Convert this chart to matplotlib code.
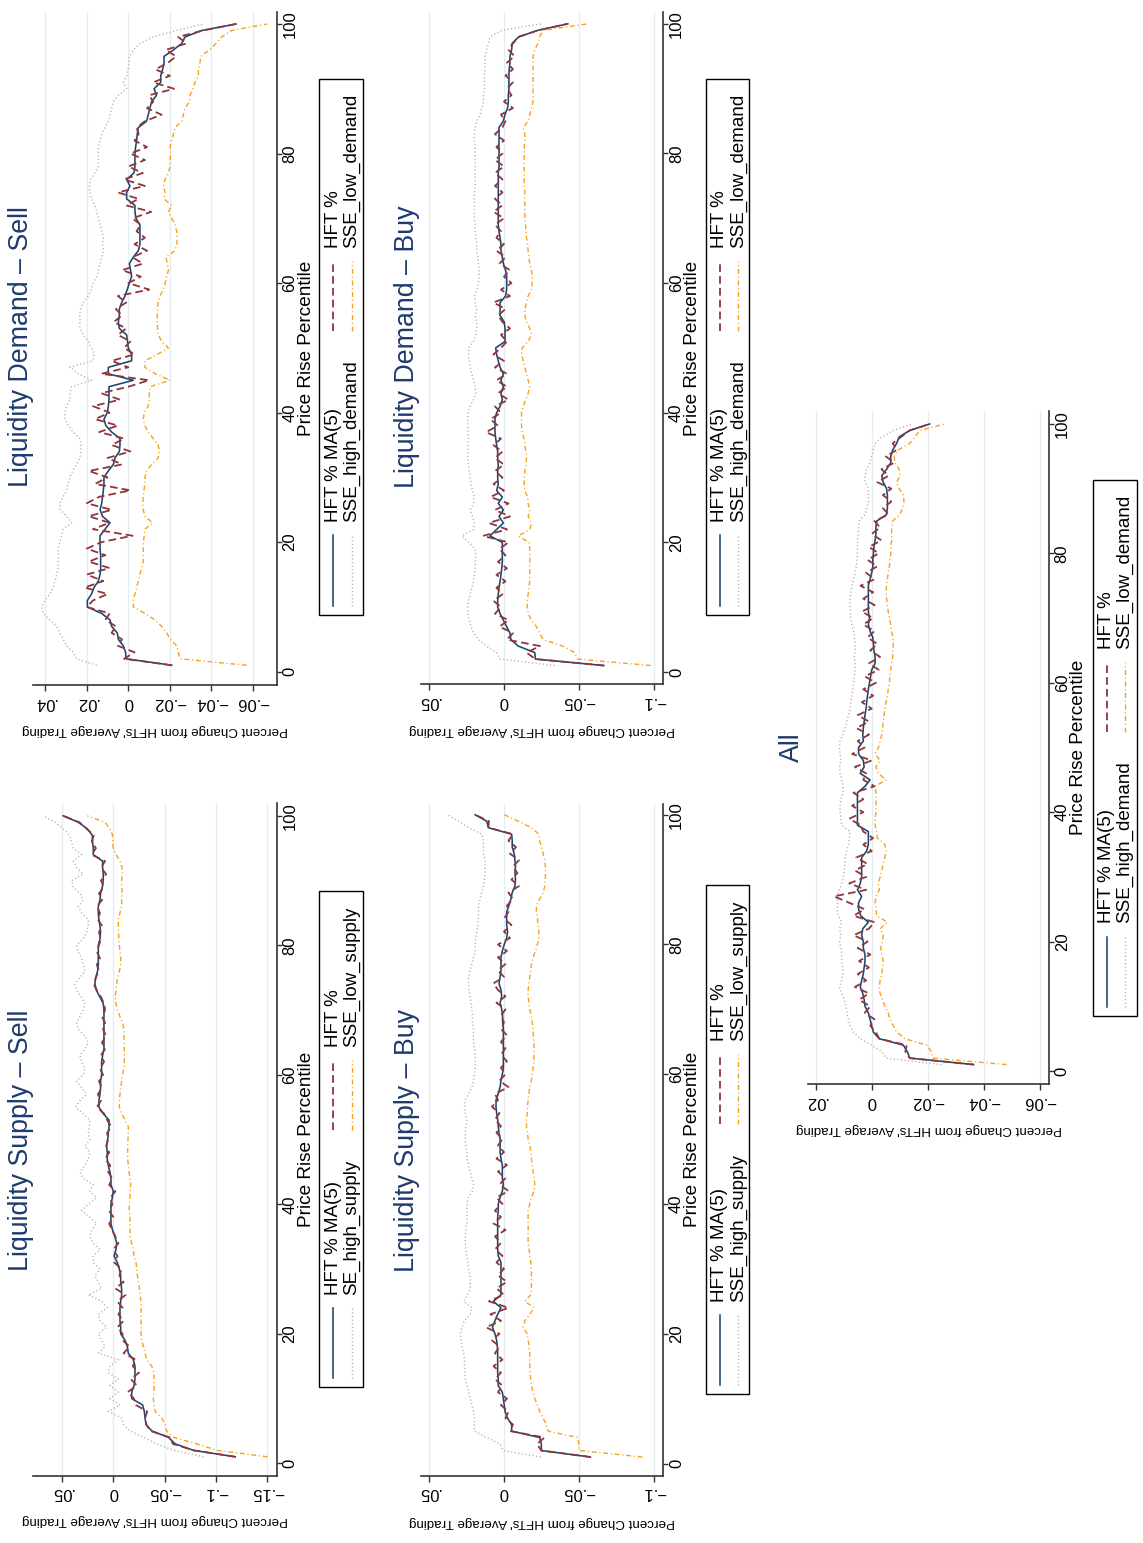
import numpy as np
import matplotlib
matplotlib.use("Agg")
import matplotlib.pyplot as plt
from matplotlib.lines import Line2D
from matplotlib.patches import Rectangle

plt.rcParams['font.family'] = ['Liberation Sans', 'DejaVu Sans']
plt.rcParams['lines.scale_dashes'] = False

W, H = 1143, 1543

# price rise percentile 1..100
pct = np.arange(1, 101)
pct_ticks = [0, 20, 40, 60, 80, 100]

# ---------------- Liquidity Supply - Sell ----------------
A_ma = [-.1187,-.0780,-.0602,-.0537,-.0374,-.0319,-.0309,-.0302,-.0286,-.0179,
        -.0179,-.0202,-.0211,-.0211,-.0211,-.0195,-.0146,-.0137,-.0114,-.0072,
        -.0072,-.0065,-.0065,-.0065,-.0072,-.0081,-.0081,-.0072,-.0072,-.0059,
        -.0039,-.0007,-.0026,-.0033,-.0016,.0007,.0023,.0023,.0023,.0023,
        .0010,.0000,.0023,.0023,.0033,.0049,.0059,.0059,.0065,.0055,
        .0049,.0042,.0042,.0098,.0140,.0140,.0130,.0124,.0124,.0114,
        .0114,.0114,.0104,.0091,.0091,.0091,.0091,.0091,.0091,.0091,
        .0098,.0130,.0163,.0179,.0172,.0153,.0146,.0146,.0146,.0146,
        .0130,.0124,.0130,.0140,.0146,.0146,.0130,.0124,.0107,.0098,
        .0098,.0104,.0104,.0195,.0195,.0202,.0205,.0254,.0341,.0488]
A_hft = [-.1187,-.0780,-.0580,-.0550,-.0360,-.0320,-.0310,-.0330,-.0220,-.0200,
         -.0140,-.0230,-.0170,-.0250,-.0190,-.0220,-.0100,-.0160,-.0090,-.0090,
         -.0040,-.0100,-.0050,-.0090,-.0040,-.0120,-.0020,-.0100,-.0060,-.0080,
         -.0010,-.0040,.0000,-.0050,-.0020,.0010,.0040,.0000,.0040,.0010,
         .0030,-.0020,.0040,.0010,.0050,.0030,.0080,.0040,.0070,.0050,
         .0060,.0020,.0060,.0090,.0160,.0120,.0150,.0110,.0140,.0100,
         .0130,.0090,.0120,.0080,.0110,.0070,.0100,.0080,.0110,.0080,
         .0090,.0120,.0160,.0190,.0170,.0140,.0160,.0130,.0160,.0140,
         .0120,.0140,.0110,.0150,.0130,.0160,.0110,.0140,.0090,.0120,
         .0070,.0120,.0080,.0210,.0170,.0210,.0190,.0260,.0330,.0488]
A_high = [-.0878,-.0585,-.0423,-.0293,-.0163,-.0098,-.0081,.0049,-.0065,.0033,
          -.0049,.0033,-.0049,.0049,.0033,-.0049,.0146,.0081,.0114,.0146,
          .0065,.0130,.0146,.0059,.0114,.0244,.0114,.0146,.0179,.0130,
          .0195,.0195,.0130,.0195,.0228,.0211,.0163,.0228,.0309,.0244,
          .0163,.0228,.0195,.0293,.0325,.0276,.0244,.0228,.0276,.0228,
          .0244,.0234,.0228,.0293,.0367,.0325,.0260,.0309,.0358,.0293,
          .0276,.0309,.0325,.0276,.0244,.0276,.0341,.0358,.0325,.0293,
          .0276,.0309,.0358,.0374,.0325,.0276,.0293,.0309,.0341,.0358,
          .0293,.0260,.0244,.0244,.0309,.0341,.0293,.0325,.0390,.0407,
          .0293,.0358,.0390,.0309,.0390,.0407,.0423,.0488,.0569,.0683]
A_low = [-.1502,-.1008,-.0813,-.0585,-.0520,-.0504,-.0472,-.0407,-.0397,-.0390,
         -.0397,-.0397,-.0397,-.0397,-.0374,-.0325,-.0309,-.0293,-.0276,-.0270,
         -.0270,-.0270,-.0270,-.0270,-.0270,-.0260,-.0254,-.0244,-.0234,-.0228,
         -.0221,-.0202,-.0195,-.0179,-.0163,-.0163,-.0163,-.0163,-.0156,-.0156,
         -.0163,-.0163,-.0169,-.0163,-.0153,-.0146,-.0140,-.0140,-.0140,-.0143,
         -.0146,-.0146,-.0114,-.0081,-.0059,-.0059,-.0065,-.0072,-.0081,-.0091,
         -.0104,-.0107,-.0107,-.0107,-.0107,-.0104,-.0104,-.0091,-.0065,-.0039,
         -.0026,-.0016,-.0026,-.0033,-.0039,-.0059,-.0072,-.0072,-.0065,-.0059,
         -.0052,-.0052,-.0049,-.0049,-.0065,-.0081,-.0081,-.0088,-.0081,-.0081,
         -.0085,-.0085,-.0065,-.0026,.0000,.0007,.0007,.0033,.0081,.0254]

# ---------------- Liquidity Demand - Sell ----------------
B_ma = [-.0209,.0011,.0013,.0024,.0048,.0053,.0080,.0088,.0128,.0197,
        .0197,.0177,.0165,.0144,.0136,.0133,.0133,.0133,.0136,.0136,
        .0136,.0112,.0088,.0124,.0136,.0128,.0124,.0120,.0117,.0117,
        .0096,.0072,.0064,.0043,.0040,.0040,.0080,.0108,.0117,.0101,
        .0096,.0093,.0093,.0093,-.0024,.0096,.0096,-.0016,-.0016,.0000,
        .0004,.0008,.0043,.0048,.0043,.0043,.0032,.0016,.0005,-.0005,
        -.0016,-.0011,-.0005,-.0024,-.0048,-.0056,-.0056,-.0056,-.0056,-.0037,
        -.0032,-.0032,.0008,.0008,-.0008,.0008,-.0027,-.0032,-.0032,-.0032,
        -.0035,-.0040,-.0043,-.0048,-.0088,-.0096,-.0104,-.0112,-.0136,-.0124,
        -.0156,-.0156,-.0165,-.0172,-.0172,-.0217,-.0257,-.0273,-.0353,-.0518]
B_hft = [-.0209,.0020,-.0030,.0050,.0030,.0080,.0060,.0110,.0090,.0200,
         .0170,.0100,.0210,.0120,.0200,.0090,.0190,.0110,.0200,.0130,
         -.0020,.0170,.0090,.0190,.0080,.0200,.0140,-.0010,.0160,.0100,
         .0190,.0030,.0100,-.0010,.0080,.0020,.0140,.0050,.0160,.0090,
         .0170,.0040,.0130,.0000,-.0100,.0130,.0000,.0080,-.0030,.0020,
         -.0010,.0050,.0010,.0070,.0030,.0060,.0010,.0050,-.0100,.0000,
         -.0060,.0030,-.0070,-.0020,-.0090,-.0030,-.0080,-.0040,-.0060,-.0020,
         -.0110,.0010,-.0050,.0050,-.0080,.0020,-.0070,.0000,-.0080,-.0010,
         -.0090,-.0030,-.0050,-.0040,-.0080,-.0160,-.0090,-.0120,-.0100,-.0220,
         -.0120,-.0200,-.0130,-.0190,-.0230,-.0180,-.0280,-.0240,-.0360,-.0518]
B_high = [.0152,.0249,.0265,.0297,.0313,.0329,.0345,.0377,.0409,.0417,
          .0401,.0377,.0361,.0353,.0345,.0337,.0337,.0337,.0337,.0329,
          .0321,.0313,.0273,.0297,.0329,.0329,.0313,.0297,.0289,.0281,
          .0268,.0249,.0233,.0228,.0228,.0233,.0265,.0289,.0305,.0305,
          .0297,.0281,.0281,.0273,.0177,.0240,.0281,.0170,.0165,.0177,
          .0193,.0217,.0233,.0233,.0233,.0230,.0217,.0193,.0177,.0169,
          .0152,.0144,.0136,.0128,.0120,.0124,.0120,.0128,.0136,.0144,
          .0152,.0161,.0177,.0185,.0188,.0181,.0161,.0144,.0144,.0144,
          .0144,.0136,.0128,.0112,.0096,.0088,.0080,.0072,.0048,.0008,
          .0024,.0008,.0000,-.0003,-.0005,-.0024,-.0056,-.0120,-.0233,-.0361]
B_low = [-.0570,-.0249,-.0241,-.0233,-.0201,-.0185,-.0161,-.0128,-.0080,-.0024,
         -.0024,-.0032,-.0040,-.0048,-.0056,-.0064,-.0072,-.0072,-.0072,-.0072,
         -.0077,-.0080,-.0117,-.0080,-.0072,-.0069,-.0072,-.0075,-.0080,-.0080,
         -.0088,-.0112,-.0144,-.0149,-.0144,-.0120,-.0096,-.0080,-.0072,-.0077,
         -.0096,-.0101,-.0101,-.0104,-.0201,-.0130,-.0080,-.0080,-.0140,-.0193,
         -.0161,-.0144,-.0141,-.0139,-.0139,-.0140,-.0144,-.0152,-.0169,-.0177,
         -.0185,-.0193,-.0188,-.0181,-.0225,-.0233,-.0236,-.0233,-.0225,-.0209,
         -.0193,-.0209,-.0172,-.0177,-.0169,-.0177,-.0193,-.0201,-.0201,-.0204,
         -.0201,-.0209,-.0217,-.0225,-.0257,-.0265,-.0273,-.0294,-.0297,-.0310,
         -.0321,-.0337,-.0337,-.0345,-.0348,-.0390,-.0422,-.0449,-.0498,-.0669]

# ---------------- Liquidity Supply - Buy ----------------
C_ma = [-.0576,-.0249,-.0249,-.0238,-.0051,-.0051,-.0024,-.0007,-.0002,.0004,
        .0011,.0038,.0038,.0042,.0042,.0042,.0042,.0044,.0049,.0060,
        .0077,.0060,.0042,.0020,.0071,.0020,.0020,.0020,.0020,.0020,
        .0020,.0038,.0042,.0042,.0042,.0042,.0042,.0042,.0038,.0038,
        .0026,.0011,.0004,.0011,.0011,.0011,.0020,.0026,.0026,.0026,
        .0033,.0038,.0042,.0049,.0053,.0053,.0038,.0026,.0020,.0011,
        .0004,.0004,.0004,.0004,.0004,.0004,.0004,.0009,.0009,.0015,
        .0026,.0015,.0020,.0033,.0026,.0020,.0020,.0020,.0011,-.0002,
        -.0018,-.0024,-.0018,-.0018,-.0018,-.0033,-.0046,-.0055,-.0073,-.0077,
        -.0073,-.0077,-.0073,-.0068,-.0055,-.0055,-.0051,.0104,.0115,.0192]
C_hft = [-.0576,-.0249,-.0220,-.0270,-.0040,-.0060,-.0010,-.0030,.0020,-.0020,
         .0040,.0010,.0060,.0020,.0070,.0010,.0060,.0030,.0080,.0030,
         .0120,.0020,.0090,-.0030,.0100,.0000,.0050,-.0020,.0040,.0000,
         .0050,.0010,.0060,.0020,.0060,-.0010,.0070,.0020,.0060,.0010,
         .0050,-.0030,.0030,-.0010,.0040,-.0020,.0050,.0000,.0040,.0010,
         .0050,.0020,.0060,.0030,.0080,.0040,.0060,-.0030,.0030,-.0010,
         .0020,-.0020,.0020,-.0010,.0020,-.0020,.0020,.0000,.0020,-.0010,
         .0050,-.0010,.0040,.0070,.0000,.0040,-.0010,.0040,-.0020,.0040,
         -.0040,.0000,-.0050,.0000,-.0030,-.0020,-.0060,-.0030,-.0100,-.0050,
         -.0090,-.0060,-.0100,-.0040,-.0080,-.0030,-.0060,.0104,.0100,.0192]
C_high = [-.0245,.0004,.0026,.0115,.0197,.0197,.0197,.0203,.0214,.0225,
          .0236,.0247,.0258,.0258,.0263,.0263,.0269,.0280,.0285,.0291,
          .0280,.0263,.0225,.0214,.0269,.0241,.0225,.0225,.0225,.0236,
          .0241,.0247,.0254,.0258,.0258,.0254,.0247,.0247,.0247,.0247,
          .0236,.0210,.0203,.0214,.0225,.0236,.0247,.0247,.0254,.0258,
          .0258,.0254,.0247,.0258,.0263,.0258,.0236,.0214,.0203,.0197,
          .0192,.0192,.0192,.0197,.0203,.0203,.0203,.0210,.0210,.0214,
          .0219,.0225,.0232,.0236,.0236,.0225,.0214,.0203,.0192,.0192,
          .0188,.0181,.0174,.0170,.0170,.0170,.0159,.0148,.0137,.0130,
          .0126,.0126,.0126,.0137,.0137,.0137,.0148,.0236,.0302,.0375]
C_low = [-.0923,-.0503,-.0499,-.0492,-.0294,-.0283,-.0261,-.0238,-.0223,-.0205,
         -.0194,-.0183,-.0179,-.0172,-.0172,-.0172,-.0172,-.0168,-.0161,-.0155,
         -.0128,-.0139,-.0172,-.0201,-.0139,-.0179,-.0183,-.0183,-.0183,-.0183,
         -.0179,-.0172,-.0168,-.0161,-.0161,-.0161,-.0161,-.0161,-.0161,-.0172,
         -.0183,-.0201,-.0205,-.0201,-.0194,-.0188,-.0183,-.0179,-.0172,-.0161,
         -.0157,-.0150,-.0150,-.0155,-.0157,-.0161,-.0166,-.0172,-.0183,-.0188,
         -.0194,-.0199,-.0201,-.0201,-.0199,-.0196,-.0194,-.0188,-.0183,-.0172,
         -.0166,-.0161,-.0161,-.0166,-.0172,-.0179,-.0183,-.0194,-.0210,-.0223,
         -.0232,-.0232,-.0227,-.0223,-.0216,-.0216,-.0238,-.0261,-.0272,-.0276,
         -.0276,-.0276,-.0272,-.0261,-.0250,-.0238,-.0232,-.0183,-.0095,-.0002]

# ---------------- Liquidity Demand - Buy ----------------
D_ma = [-.0665,-.0210,-.0205,-.0095,-.0046,-.0040,-.0018,.0004,.0026,.0042,
        .0042,.0038,.0033,.0026,.0020,.0015,.0011,.0011,.0011,.0011,
        .0093,.0049,.0004,.0033,.0004,.0038,.0011,.0049,.0038,.0042,
        .0042,.0038,.0042,.0042,.0049,.0055,.0060,.0060,.0060,.0049,
        .0026,.0011,.0020,.0004,.0020,.0004,.0026,.0038,.0049,.0055,
        -.0007,-.0007,-.0007,-.0002,.0026,.0026,.0026,-.0011,-.0018,-.0018,
        -.0018,-.0011,.0004,.0011,.0020,.0020,.0026,.0033,.0038,.0038,
        .0038,.0038,.0038,.0038,.0038,.0038,.0038,.0033,.0033,.0033,
        .0033,.0033,.0033,.0033,.0004,-.0007,-.0024,-.0029,-.0029,-.0033,
        -.0033,-.0033,-.0035,-.0040,-.0040,-.0051,-.0055,-.0099,-.0227,-.0426]
D_hft = [-.0665,-.0210,-.0150,-.0240,-.0020,-.0060,.0030,-.0030,.0060,.0020,
         .0070,.0010,.0050,-.0010,.0050,-.0020,.0040,-.0010,.0030,-.0030,
         .0140,-.0020,.0100,-.0040,.0060,-.0030,.0090,.0000,.0070,.0010,
         .0060,.0000,.0060,.0010,.0070,.0020,.0120,.0040,.0090,.0020,
         .0060,-.0030,.0040,-.0020,.0050,-.0020,.0060,.0000,.0070,.0020,
         -.0020,.0020,-.0040,.0010,.0040,-.0010,.0070,-.0040,.0020,-.0050,
         .0000,-.0040,.0030,-.0010,.0050,.0000,.0050,.0020,.0060,.0000,
         .0070,.0010,.0060,.0010,.0060,.0010,.0060,.0000,.0060,.0010,
         .0050,.0000,.0060,.0010,-.0010,.0020,-.0060,.0000,-.0050,-.0020,
         -.0060,-.0010,-.0060,-.0020,-.0070,-.0030,-.0060,-.0100,-.0227,-.0426]
D_high = [-.0338,.0026,.0049,.0115,.0170,.0203,.0219,.0232,.0241,.0241,
          .0236,.0225,.0214,.0203,.0197,.0192,.0192,.0188,.0192,.0236,
          .0280,.0203,.0197,.0210,.0225,.0203,.0197,.0210,.0219,.0225,
          .0232,.0236,.0241,.0241,.0241,.0236,.0241,.0241,.0241,.0241,
          .0225,.0203,.0188,.0192,.0203,.0214,.0225,.0232,.0236,.0236,
          .0203,.0188,.0181,.0181,.0192,.0181,.0192,.0197,.0181,.0170,
          .0166,.0166,.0170,.0174,.0181,.0181,.0188,.0192,.0192,.0197,
          .0197,.0197,.0197,.0197,.0192,.0192,.0192,.0192,.0192,.0192,
          .0192,.0197,.0197,.0192,.0181,.0159,.0148,.0137,.0137,.0130,
          .0130,.0130,.0126,.0126,.0126,.0115,.0104,.0093,.0015,-.0249]
D_low = [-.0978,-.0492,-.0470,-.0393,-.0261,-.0238,-.0216,-.0183,-.0161,-.0155,
         -.0155,-.0161,-.0166,-.0172,-.0172,-.0172,-.0172,-.0172,-.0172,-.0166,
         -.0095,-.0172,-.0183,-.0161,-.0172,-.0161,-.0157,-.0139,-.0135,-.0135,
         -.0139,-.0146,-.0150,-.0146,-.0139,-.0135,-.0121,-.0117,-.0117,-.0117,
         -.0128,-.0144,-.0161,-.0172,-.0161,-.0150,-.0139,-.0128,-.0117,-.0121,
         -.0161,-.0183,-.0172,-.0150,-.0139,-.0139,-.0150,-.0161,-.0183,-.0188,
         -.0188,-.0183,-.0172,-.0166,-.0161,-.0157,-.0150,-.0146,-.0144,-.0139,
         -.0139,-.0139,-.0139,-.0139,-.0135,-.0135,-.0135,-.0135,-.0135,-.0135,
         -.0135,-.0139,-.0139,-.0128,-.0161,-.0172,-.0183,-.0194,-.0194,-.0194,
         -.0194,-.0194,-.0194,-.0194,-.0194,-.0205,-.0227,-.0238,-.0261,-.0559]

# ---------------- All ----------------
E_ma = [-.0364,-.0136,-.0127,-.0113,-.0027,-.0006,.0000,.0006,.0012,.0024,
        .0027,.0032,.0041,.0036,.0030,.0027,.0024,.0024,.0030,.0030,
        .0036,.0032,.0012,.0039,.0047,.0047,.0036,.0051,.0041,.0036,
        .0036,.0036,.0036,.0018,.0012,.0012,.0012,.0051,.0051,.0051,
        .0051,.0051,.0051,.0024,.0006,.0041,.0027,.0030,.0047,.0047,
        .0030,.0032,.0030,.0027,.0024,.0020,.0018,.0015,.0012,.0008,
        .0004,.0000,-.0012,-.0012,-.0008,-.0006,-.0004,.0006,.0012,.0008,
        .0012,.0012,.0012,.0012,.0012,.0006,.0000,-.0004,-.0004,-.0006,
        -.0008,-.0012,-.0015,-.0015,-.0018,-.0053,-.0056,-.0056,-.0056,-.0053,
        -.0041,-.0036,-.0053,-.0068,-.0068,-.0075,-.0089,-.0098,-.0136,-.0207]
E_hft = [-.0364,-.0136,-.0120,-.0125,-.0027,-.0015,.0005,-.0010,.0025,.0005,
         .0045,.0010,.0060,.0020,.0050,.0010,.0045,.0005,.0050,.0015,
         .0065,.0010,-.0010,.0065,.0025,.0080,.0135,.0020,.0080,.0020,
         .0060,.0015,.0055,.0000,.0030,-.0005,.0030,.0040,.0080,.0030,
         .0070,.0030,.0065,-.0010,.0030,.0020,.0060,.0000,.0070,.0025,
         .0050,.0010,.0055,.0010,.0050,.0000,.0035,-.0005,.0030,-.0015,
         .0025,-.0025,.0010,-.0030,.0005,-.0020,.0015,-.0010,.0030,-.0005,
         .0035,-.0010,.0030,-.0005,.0040,-.0010,.0020,-.0020,.0015,-.0025,
         .0010,-.0035,.0000,-.0030,-.0010,-.0060,-.0040,-.0070,-.0040,-.0070,
         -.0020,-.0060,-.0035,-.0080,-.0050,-.0090,-.0075,-.0105,-.0136,-.0207]
E_high = [-.0249,-.0051,-.0036,.0000,.0041,.0065,.0077,.0083,.0089,.0091,
          .0098,.0107,.0115,.0107,.0103,.0103,.0107,.0107,.0110,.0115,
          .0110,.0115,.0107,.0119,.0124,.0121,.0127,.0115,.0107,.0101,
          .0098,.0095,.0095,.0089,.0083,.0080,.0077,.0107,.0110,.0113,
          .0113,.0110,.0103,.0103,.0107,.0113,.0115,.0110,.0113,.0115,
          .0113,.0103,.0095,.0089,.0083,.0077,.0075,.0071,.0068,.0065,
          .0062,.0059,.0059,.0062,.0059,.0059,.0062,.0065,.0071,.0075,
          .0077,.0077,.0077,.0075,.0071,.0065,.0059,.0055,.0053,.0051,
          .0051,.0051,.0047,.0047,.0044,.0024,.0018,.0012,.0012,.0012,
          .0024,.0024,.0018,.0006,.0000,-.0006,-.0012,-.0036,-.0077,-.0148]
E_low = [-.0482,-.0219,-.0213,-.0196,-.0119,-.0089,-.0077,-.0065,-.0059,-.0047,
         -.0039,-.0030,-.0027,-.0030,-.0036,-.0039,-.0041,-.0036,-.0032,-.0039,
         -.0041,-.0030,-.0056,-.0018,-.0015,-.0012,-.0015,-.0027,-.0024,-.0030,
         -.0036,-.0041,-.0047,-.0051,-.0047,-.0020,-.0018,-.0012,-.0012,-.0015,
         -.0015,-.0015,-.0015,-.0012,-.0051,-.0024,-.0015,-.0030,-.0012,-.0024,
         -.0030,-.0036,-.0039,-.0041,-.0044,-.0047,-.0051,-.0056,-.0059,-.0063,
         -.0065,-.0068,-.0071,-.0075,-.0075,-.0077,-.0075,-.0071,-.0068,-.0063,
         -.0059,-.0056,-.0053,-.0051,-.0053,-.0056,-.0059,-.0063,-.0065,-.0068,
         -.0068,-.0071,-.0071,-.0071,-.0075,-.0101,-.0110,-.0115,-.0113,-.0098,
         -.0089,-.0101,-.0098,-.0083,-.0080,-.0095,-.0136,-.0154,-.0172,-.0261]

NAVY = '#1a476f'
MAROON = '#90353b'
GRAY = '#b3ab94'
ORANGE = '#f7a21b'
TITLE_C = '#1e3b6e'
GRID_C = '#e4eef0'
AXIS_C = '#333333'

styles = [dict(color=NAVY, lw=1.15, ls='-'),
          dict(color=MAROON, lw=1.3, ls=(0, (5.5, 3))),
          dict(color=GRAY, lw=1.0, ls=(0, (0.8, 1.8))),
          dict(color=ORANGE, lw=1.0, ls=(0, (3.5, 2, 0.8, 2)))]

panels = [
    dict(box=(33.3, 276.7, 803.3, 1475.7), xlim=(0.0779, -0.1591), ylim=(-1.92, 101.93),
         xticks=[.05, 0, -.05, -.1, -.15], xlabels=['.05', '0', '\u2212.05', '\u2212.1', '\u2212.15'],
         title='Liquidity Supply \u2013 Sell', title_xy=(21, 1140), clab_y=1520,
         leg_x=(319, 363), leg_rows=(333, 352), leg_yc=1139,
         labels=('HFT % MA(5)', 'HFT %', 'SE_high_supply', 'SSE_low_supply'),
         data=(A_ma, A_hft, A_high, A_low)),
    dict(box=(33.3, 276.7, 11.7, 685.0), xlim=(0.0457, -0.0714), ylim=(-2.05, 101.9),
         xticks=[.04, .02, 0, -.02, -.04, -.06],
         xlabels=['.04', '.02', '0', '\u2212.02', '\u2212.04', '\u2212.06'],
         title='Liquidity Demand \u2013 Sell', title_xy=(21, 347), clab_y=730,
         leg_x=(319, 363), leg_rows=(333, 352), leg_yc=346.5,
         labels=('HFT % MA(5)', 'HFT %', 'SSE_high_demand', 'SSE_low_demand'),
         data=(B_ma, B_hft, B_high, B_low)),
    dict(box=(420.7, 663.3, 803.7, 1475.7), xlim=(0.0555, -0.1062), ylim=(-1.88, 101.7),
         xticks=[.05, 0, -.05, -.1], xlabels=['.05', '0', '\u2212.05', '\u2212.1'],
         title='Liquidity Supply \u2013 Buy', title_xy=(407, 1140), clab_y=1522,
         leg_x=(706, 749.3), leg_rows=(720, 738.3), leg_yc=1139.5,
         labels=('HFT % MA(5)', 'HFT %', 'SSE_high_supply', 'SSE_low_supply'),
         data=(C_ma, C_hft, C_high, C_low)),
    dict(box=(420.7, 663.3, 11.5, 684.4), xlim=(0.0555, -0.1062), ylim=(-1.91, 101.9),
         xticks=[.05, 0, -.05, -.1], xlabels=['.05', '0', '\u2212.05', '\u2212.1'],
         title='Liquidity Demand \u2013 Buy', title_xy=(407, 347), clab_y=730,
         leg_x=(706, 749.3), leg_rows=(720, 738.3), leg_yc=346.5,
         labels=('HFT % MA(5)', 'HFT %', 'SSE_high_demand', 'SSE_low_demand'),
         data=(D_ma, D_hft, D_high, D_low)),
    dict(box=(808.0, 1049.0, 411.0, 1084.0), xlim=(0.02275, -0.0633), ylim=(-2.0, 102.0),
         xticks=[.02, 0, -.02, -.04, -.06],
         xlabels=['.02', '0', '\u2212.02', '\u2212.04', '\u2212.06'],
         title='All', title_xy=(792, 747), clab_y=1129,
         leg_x=(1092.7, 1136.7), leg_rows=(1106.7, 1125), leg_yc=747.5,
         labels=('HFT % MA(5)', 'HFT %', 'SSE_high_demand', 'SSE_low_demand'),
         data=(E_ma, E_hft, E_high, E_low)),
]

fig = plt.figure(figsize=(W / 100, H / 100), dpi=100)
renderer = fig.canvas.get_renderer()


def fx(px):
    return px / W


def fy(py):
    return 1 - py / H


axes = []
for sp in panels:
    x0, x1, y0, y1 = sp['box']
    ax = fig.add_axes([fx(x0), fy(y1), (x1 - x0) / W, (y1 - y0) / H])
    axes.append(ax)
    for vals, st in zip(sp['data'], styles):
        ax.plot(vals, pct, **st)
    ax.set_xlim(*sp['xlim'])
    ax.set_ylim(*sp['ylim'])
    ax.set_xticks(sp['xticks'])
    ax.set_xticklabels(sp['xlabels'])
    ax.set_yticks(pct_ticks)
    ax.yaxis.tick_right()
    ax.grid(axis='x', color=GRID_C, lw=1.0)
    ax.set_axisbelow(True)
    for s in ('top', 'left'):
        ax.spines[s].set_visible(False)
    for s in ('bottom', 'right'):
        ax.spines[s].set_color(AXIS_C)
        ax.spines[s].set_linewidth(1.2)
    ax.tick_params(axis='x', labelrotation=180, labelsize=12, length=4, width=1,
                   color=AXIS_C, pad=3)
    ax.tick_params(axis='y', labelrotation=90, labelsize=12, length=3.6, width=1,
                   color=AXIS_C, pad=0.5)
    for lab in ax.get_yticklabels():
        lab.set_va('center')

    # titles and bottom axis title
    fig.text(fx(sp['title_xy'][0]), fy(sp['title_xy'][1]), sp['title'], rotation=90,
             ha='center', va='center', fontsize=19.3, color=TITLE_C)
    fig.text(fx((x0 + x1) / 2), fy(sp['clab_y']), "Percent Change from HFTs' Average Trading",
             rotation=180, ha='center', va='center', fontsize=9.6)

    # legend, drawn rotated by hand (two columns x two rows)
    lx0, lx1 = sp['leg_x']
    r1, r2 = sp['leg_rows']
    texts = []
    for t, rx in zip(sp['labels'], (r1, r1, r2, r2)):
        texts.append(fig.text(fx(rx), 0.5, t, rotation=90, ha='center', va='bottom',
                              fontsize=13.5))
    lens = [t.get_window_extent(renderer=renderer).height for t in texts]
    col1_w = max(lens[0], lens[2])
    col2_w = max(lens[1], lens[3])
    pad_b, key, gap, col_gap, pad_t = 9, 70, 13, 30, 15
    total = pad_b + key + gap + col1_w + col_gap + key + gap + col2_w + pad_t
    yb = sp['leg_yc'] + total / 2
    fig.add_artist(Rectangle((fx(lx0), fy(yb)), (lx1 - lx0) / W, total / H,
                             transform=fig.transFigure, facecolor='white',
                             edgecolor='black', lw=1.0, zorder=1))
    k1 = yb - pad_b
    t1 = k1 - key - gap
    k2 = t1 - col1_w - col_gap
    t2 = k2 - key - gap
    spots = [(r1, k1, t1, 0), (r1, k2, t2, 1), (r2, k1, t1, 2), (r2, k2, t2, 3)]
    for rx, ks, ts, i in spots:
        fig.add_artist(Line2D([fx(rx), fx(rx)], [fy(ks), fy(ks - key)],
                              transform=fig.transFigure, zorder=2, **styles[i]))
        texts[i].set_position((fx(rx), fy(ts)))
        texts[i].set_zorder(3)

# side axis title placed just beyond the percentile tick labels
fig.canvas.draw()
for sp, ax in zip(panels, axes):
    x0, x1, y0, y1 = sp['box']
    right = max(l.get_window_extent(renderer=renderer).x1 for l in ax.get_yticklabels())
    fig.text(right / W + 0.5 / W, fy((y0 + y1) / 2), 'Price Rise Percentile', rotation=90,
             ha='left', va='center', fontsize=13.7)

fig.savefig('out.png', dpi=100)
